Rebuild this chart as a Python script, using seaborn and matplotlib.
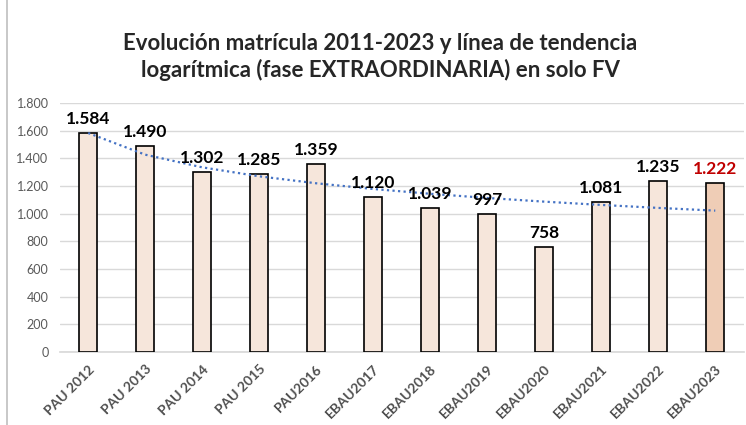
import numpy as np
import pandas as pd
import matplotlib
matplotlib.use("Agg")
import matplotlib.pyplot as plt
import seaborn as sns

sns.set_theme(style="white")
plt.rcParams['font.family'] = ['Lato', 'DejaVu Sans']

years = ["PAU 2012", "PAU 2013", "PAU 2014", "PAU 2015", "PAU2016", "EBAU2017",
         "EBAU2018", "EBAU2019", "EBAU2020", "EBAU2021", "EBAU2022", "EBAU2023"]
enrolled = [1584, 1490, 1302, 1285, 1359, 1120, 1039, 997, 758, 1081, 1235, 1222]

df = pd.DataFrame({"year": years, "n": enrolled})
colors = ["#FBE5D6"] * (len(years) - 1) + ["#F8CBAD"]

fig = plt.figure(figsize=(7.46, 4.25), dpi=100)
ax = fig.add_axes([0.080, 0.172, 0.917, 0.586])

sns.barplot(data=df, x="year", y="n", hue="year", palette=colors, legend=False,
            width=0.32, edgecolor="black", linewidth=1.2, ax=ax, zorder=3)

# logarithmic trend line fitted to the data
xs = np.arange(1, len(enrolled) + 1)
a, b = np.polyfit(np.log(xs), enrolled, 1)
ax.plot(xs - 1, a * np.log(xs) + b, linestyle=(0, (1, 1.5)), color="#4472C4",
        linewidth=1.6, zorder=4)

def fmt(v):
    return f"{v:,}".replace(",", ".")

for i, v in enumerate(enrolled):
    col = "#C00000" if i == len(enrolled) - 1 else "black"
    ax.text(i, v + 45, fmt(v), ha="center", va="bottom", fontsize=12.5,
            fontweight="bold", color=col, zorder=5)

ax.set_ylim(0, 1800)
ax.set_xlim(-0.5, len(years) - 0.5)
ax.set_yticks(range(0, 1801, 200))
ax.set_yticklabels([fmt(t) for t in range(0, 1801, 200)])
ax.yaxis.grid(True, color="#D9D9D9", linewidth=1, zorder=0)
ax.set_axisbelow(True)
for s in ["top", "right", "left"]:
    ax.spines[s].set_visible(False)
ax.spines["bottom"].set_color("#D9D9D9")
ax.tick_params(axis="y", length=0, labelsize=9, colors="#595959", pad=8)
ax.tick_params(axis="x", length=0, labelsize=10, colors="#505050", pad=8)
plt.setp(ax.get_xticklabels(), rotation=45, ha="right", rotation_mode="anchor",
         fontweight="bold")
ax.set_xlabel("")
ax.set_ylabel("")

fig.text(0.51, 0.866, "Evolución matrícula 2011-2023 y línea de tendencia\n"
         "logarítmica (fase EXTRAORDINARIA) en solo FV", ha="center", va="center",
         fontsize=16, fontweight="bold", color="#262626", linespacing=1.3)

fig.add_artist(plt.Line2D([0.009, 0.009], [0, 1], color="#BFBFBF", linewidth=1.2,
                          transform=fig.transFigure))

fig.savefig("out.png", dpi=100)
